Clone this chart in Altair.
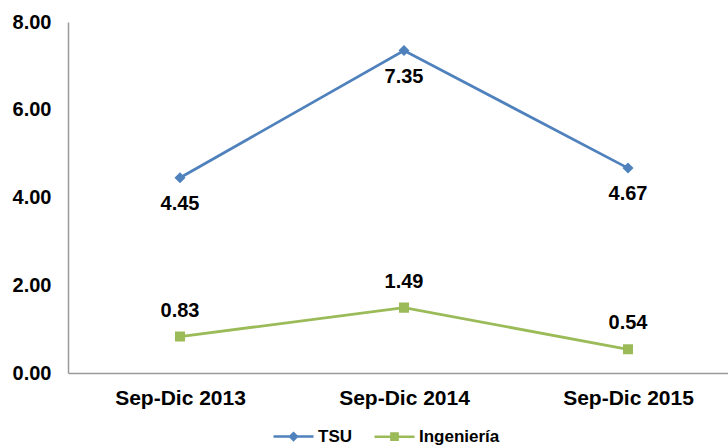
import altair as alt
import pandas as pd

# Periods on the x axis and the two series plotted over them
periodos = ["Sep-Dic 2013", "Sep-Dic 2014", "Sep-Dic 2015"]
tsu = [4.45, 7.35, 4.67]
ingenieria = [0.83, 1.49, 0.54]
series = ["TSU", "Ingeniería"]
colores = ["#4F81BD", "#9BBB59"]
y_ticks = [0, 2, 4, 6, 8]

rows = []
for nombre, valores in zip(series, [tsu, ingenieria]):
    for i, (p, v) in enumerate(zip(periodos, valores)):
        # "linea" duplicates the series name so the line layer gets its own colour scale
        rows.append({"periodo": p, "idx": i, "serie": nombre, "linea": nombre, "valor": v})
df = pd.DataFrame(rows)

FONT = "Liberation Sans"
W, H = 660, 351
STEP = 224  # pixels between consecutive periods

# Marker paths: a horizontal stroke (only visible in the legend) plus a diamond / square
marcadores = [
    "M-1,0H1M0,-0.17L0.17,0L0,0.17L-0.17,0Z",
    "M-1,0H1M-0.155,-0.155H0.155V0.155H-0.155Z",
]
etiquetas_x = "[" + ",".join(f"'{p}'" for p in periodos) + "][datum.value]"

color_scale = alt.Scale(domain=series, range=colores)
shape_scale = alt.Scale(domain=series, range=marcadores)

x = alt.X(
    "idx:Q",
    scale=alt.Scale(domain=[-0.5, -0.5 + W / STEP], nice=False, zero=False),
    axis=alt.Axis(
        values=list(range(len(periodos))),
        labelExpr=etiquetas_x,
        title=None,
        grid=False,
        ticks=False,
        labelFlush=False,
        labelOverlap=False,
        labelFont=FONT,
        labelFontSize=21,
        labelFontWeight="bold",
        labelColor="black",
        labelPadding=14,
        domainColor="#9a9a9a",
        domainWidth=1.5,
    ),
)
y = alt.Y(
    "valor:Q",
    scale=alt.Scale(domain=[0, 8], nice=False),
    axis=alt.Axis(
        values=y_ticks,
        format=".2f",
        title=None,
        grid=False,
        ticks=False,
        labelFont=FONT,
        labelFontSize=20,
        labelFontWeight="bold",
        labelColor="black",
        labelPadding=17,
        domainColor="#9a9a9a",
        domainWidth=1.5,
    ),
)

leyenda = alt.Legend(
    title=None,
    orient="none",
    legendX=204,
    legendY=393,
    direction="horizontal",
    symbolSize=1600,
    symbolStrokeWidth=2.5,
    symbolOpacity=1,
    labelFont=FONT,
    labelFontSize=17,
    labelFontWeight="bold",
    labelColor="black",
    labelOffset=3,
    columnPadding=17,
    padding=0,
)

base = alt.Chart(df)

lineas = base.mark_line(strokeWidth=2.75).encode(
    x=x,
    y=y,
    color=alt.Color("linea:N", sort=series, scale=alt.Scale(range=colores), legend=None),
)

puntos = base.mark_point(filled=True, size=4200, opacity=1).encode(
    x=x,
    y=y,
    fill=alt.Fill("serie:N", scale=color_scale, legend=leyenda),
    stroke=alt.Stroke("serie:N", scale=color_scale, legend=leyenda),
    shape=alt.Shape("serie:N", scale=shape_scale, legend=leyenda),
    strokeWidth=alt.value(0),
)

texto_tsu = base.mark_text(
    dy=26, font=FONT, fontSize=20, fontWeight="bold", color="black"
).encode(x=x, y=y, text=alt.Text("valor:Q", format=".2f")).transform_filter(
    alt.datum.serie == series[0]
)

texto_ing = base.mark_text(
    dy=-26, font=FONT, fontSize=20, fontWeight="bold", color="black"
).encode(x=x, y=y, text=alt.Text("valor:Q", format=".2f")).transform_filter(
    alt.datum.serie == series[1]
)

chart = (
    alt.layer(lineas, puntos, texto_tsu, texto_ing)
    .properties(
        width=W,
        height=H,
        autosize=alt.AutoSizeParams(type="none"),
        padding={"left": 68, "top": 22, "right": 0, "bottom": 74},
        background="white",
    )
    .configure_view(stroke=None)
)

chart.save("out.html", embed_options={"renderer": "svg", "actions": False})
